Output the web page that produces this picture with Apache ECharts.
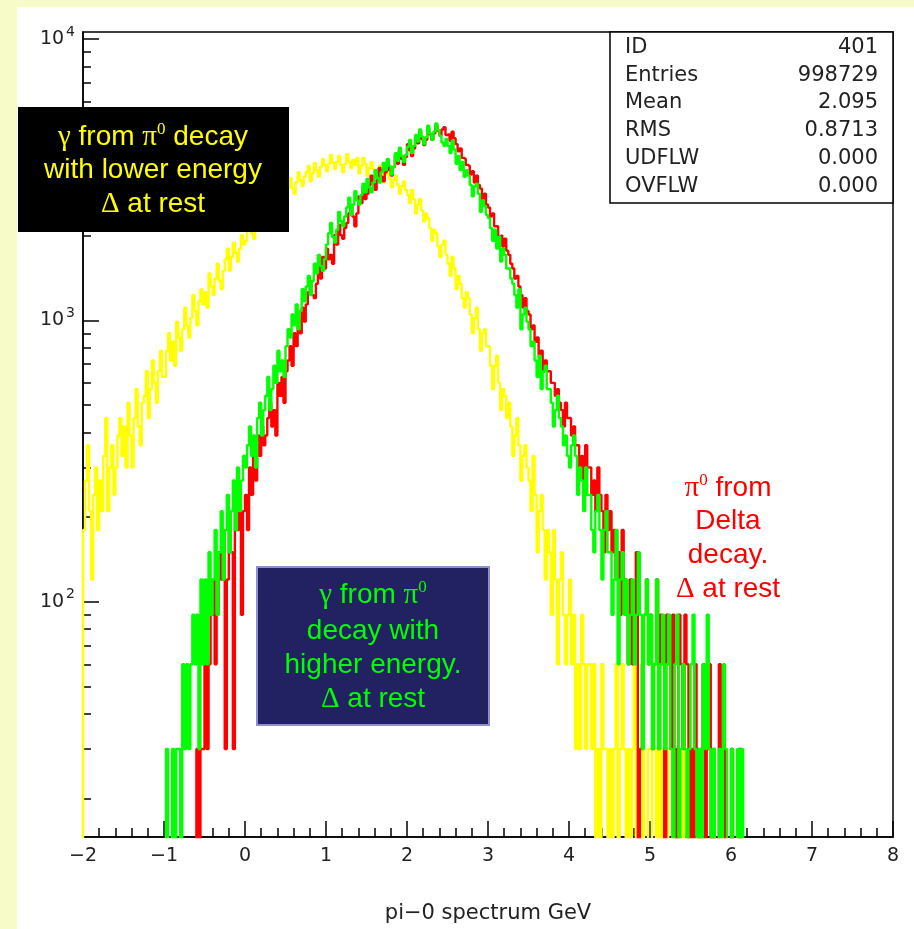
<!DOCTYPE html>
<html><head><meta charset="utf-8">
<script src="https://cdn.jsdelivr.net/npm/echarts@6/dist/echarts.min.js"></script>
<style>
html,body{margin:0;padding:0;background:#f6fbc8;}
#bg{position:absolute;left:17px;top:7px;width:897px;height:922px;background:#fff;}
#chart{position:absolute;left:0;top:0;width:914px;height:929px;}
</style></head><body>
<div id="bg"></div><div id="chart"></div>
<script>
// ---- data (bin width 0.025 GeV) ----
const binWidth = 0.025;
const xTicks = [-2, -1, 0, 1, 2, 3, 4, 5, 6, 7, 8];
const yMajor = [100, 1000, 10000];
const yMinor = [20,30,40,50,60,70,80,90,200,300,400,500,600,700,800,900,2000,3000,4000,5000,6000,7000,8000,9000];

const yellowStart = -2.0;   // gamma from pi0, lower energy
const yellowCounts = [
  180,270,360,210,120,240,300,180,270,210, 330,450,210,300,360,240,300,390,450,330,
  420,300,510,390,300,450,570,420,360,510, 540,660,450,570,720,600,510,660,780,630,
  630,780,900,720,840,690,990,870,780,930, 1110,960,870,1020,1230,1080,960,1170,1290,1140,
  1260,1110,1470,1320,1230,1410,1590,1380,1290,1500, 1650,1800,1500,1680,1890,1740,1620,1800,2010,1860,
  1920,2100,2280,2040,1950,2190,2430,2250,2130,2340, 2520,2700,2370,2550,2820,2640,2490,2730,2940,2760,
  2700,2970,3210,2940,2820,3090,3360,3150,3000,3240, 3360,3540,3120,3330,3630,3420,3240,3510,3750,3570,
  3390,3600,3870,3630,3450,3660,3840,3570,3360,3600, 3900,3660,3480,3720,3570,3780,3330,3540,3780,3600,
  3270,3480,3660,3450,3180,3390,3540,3300,3090,3300, 3420,3180,2970,3150,3270,3030,2820,3000,3120,2910,
  2790,2610,2910,2700,2400,2580,2700,2460,2250,2400, 2310,2130,1920,2100,2040,1830,1680,1860,1920,1710,
  1590,1440,1680,1530,1290,1440,1350,1200,1110,1260, 1200,1050,900,1020,1110,930,780,900,930,810,
  810,690,570,690,750,600,480,570,540,450, 510,420,330,390,450,360,270,330,360,300,
  270,210,330,240,150,210,240,180,120,180, 150,90,180,120,60,120,150,90,60,90,
  120,60,90,30,60,30,90,60,30,60, 60,30,60,0,30,0,60,30,30,0,
  30,0,30,60,0,30,60,30,0,30, 0,30,60,0,30,0,30,0,0,30,
  30,0,0,30,0,30,0,0,30,0, 0,0,30,0,0,0,30,0,0,30
];
const greenStart = -1.0;    // gamma from pi0, higher energy
const greenCounts = [
  0,30,0,0,30,0,30,30,0,60, 30,60,30,60,90,60,90,30,120,60,
  120,60,150,90,120,180,90,150,210,120, 180,240,150,210,270,180,300,210,270,330,
  300,360,420,330,390,300,450,510,390,480, 540,630,480,570,690,600,780,660,720,630,
  810,930,870,1050,960,1140,930,1080,1290,1170, 1320,1440,1230,1380,1590,1470,1710,1560,1500,1650,
  1860,2040,2220,1980,1890,2100,2430,2250,2160,2340, 2520,2730,2370,2580,2880,2670,2580,2790,3060,2850,
  3180,2970,2850,3090,3420,3210,3090,3360,3630,3420, 3750,3540,3300,3510,3930,3690,4110,3840,3660,3870,
  4140,4380,3930,4170,4560,4320,4770,4500,4230,4470, 4920,4620,4380,4680,5010,4740,4530,4290,4170,4410,
  4170,3930,4350,4050,3600,3840,3420,3660,3240,3420, 3270,3030,2760,3000,3060,2820,2430,2670,2550,2370,
  2310,2130,1920,2100,1800,1980,1620,1800,1710,1530, 1530,1410,1350,1230,1110,1290,930,1050,1110,990,
  930,810,840,720,630,750,570,660,690,570, 570,510,420,480,540,450,420,360,390,330,
  300,360,390,330,240,300,270,210,300,240, 240,180,150,210,240,180,120,180,210,150,
  150,90,120,180,60,120,150,90,120,60, 90,120,60,90,150,90,30,90,120,60,
  90,30,60,120,30,60,90,30,60,90, 30,0,60,90,0,30,60,30,0,30,
  60,90,30,0,30,0,60,30,90,30, 0,30,0,0,30,0,60,30,0,0,
  30,0,0,30,0,30,0,0,0,0
];
const redStart = -0.6;      // pi0 from Delta decay
const redCounts = [
  30,0,30,30,
  60,30,60,90,120,60,90,150,120,180, 30,120,180,150,30,210,180,240,90,210,
  240,180,300,240,330,270,390,330,420,360, 390,450,510,420,480,390,600,540,630,510,
  660,720,810,690,900,810,1020,900,1110,990, 1140,1260,1380,1230,1200,1350,1560,1410,1680,1530,
  1800,1650,1710,1590,2010,1860,2190,2010,1950,2130, 2220,2400,2550,2340,2160,2400,2760,2610,2940,2700,
  2820,3030,3270,3060,2910,3150,3480,3240,3120,3360, 3660,3420,3270,3510,3840,3600,4020,3750,3570,3810,
  4230,4020,3840,4080,4500,4260,4680,4410,4200,4380, 4800,4590,4380,4620,4950,4710,4530,4770,4860,4560,
  4590,4350,4680,4440,4230,3990,4080,3780,3750,3570, 3540,3300,3390,3090,3270,3030,2940,2700,2820,2580,
  2520,2340,2400,2160,2160,1980,2010,1830,1950,1770, 1710,1590,1530,1410,1440,1320,1230,1110,1200,1080,
  1050,930,960,840,870,750,780,660,720,660, 660,600,600,540,570,510,480,420,510,450,
  450,390,420,360,360,300,330,270,360,300, 300,240,270,210,300,240,210,150,240,180,
  210,150,180,120,150,90,180,120,90,60, 120,60,90,150,0,30,60,90,120,60,
  90,30,60,120,30,90,60,0,90,60, 30,90,30,0,90,60,30,90,60,0,
  30,0,60,30,0,30,60,0,30,60, 0,30,0,0,60,30,30,0,0,0,
  30,0,0,0,30,0,0,0,0,0
];

const statsLabels = ['ID', 'Entries', 'Mean', 'RMS', 'UDFLW', 'OVFLW'];
const statsValues = ['401', '998729', '2.095', '0.8713', '0.000', '0.000'];

// ---- build ----
const FLOOR = 1; // empty bins are drawn below the axis minimum (log scale)
function histPoints(start, counts) {
  const pts = [[start, FLOOR]];
  counts.forEach((c, i) => {
    const lo = +(start + i * binWidth).toFixed(4);
    const hi = +(start + (i + 1) * binWidth).toFixed(4);
    const v = c > 0 ? c : FLOOR;
    pts.push([lo, v], [hi, v]);
  });
  pts.push([+(start + counts.length * binWidth).toFixed(4), FLOOR]);
  return pts;
}

const AX = 'DejaVu Sans';
const SANS = 'Liberation Sans';
const SERIF = 'Liberation Serif';
const axisCol = '#000';

function line(x, y, text, color, size, z) {
  return {
    type: 'text', x: x, y: y, z: z || 101,
    style: {
      text: text, fill: color, fontFamily: SANS, fontSize: size,
      align: 'center', verticalAlign: 'middle',
      rich: {
        s: { fontFamily: SERIF, fontSize: size + 1, fill: color },
        p: { fontFamily: SERIF, fontSize: Math.round(size * 0.62), fill: color, padding: [0, 0, Math.round(size * 0.5), 0] }
      }
    }
  };
}

const graphics = [
  { type: 'rect', z: 100, shape: { x: 18, y: 107, width: 271, height: 125 }, style: { fill: '#000' } },
  line(153, 137, '{s|γ} from {s|π}{p|0} decay', '#ffff00', 28),
  line(153, 170, 'with lower energy', '#ffff00', 28),
  line(153, 204, '{s|Δ} at rest', '#ffff00', 28),
  { type: 'rect', z: 100, shape: { x: 257, y: 567, width: 232, height: 158 }, style: { fill: '#222262', stroke: '#8f8fd0', lineWidth: 2 } },
  line(373, 595, '{s|γ} from {s|π}{p|0}', '#00ff00', 28),
  line(373, 631, 'decay with', '#00ff00', 28),
  line(373, 665, 'higher energy.', '#00ff00', 28),
  line(373, 699, '{s|Δ} at rest', '#00ff00', 28),
  line(728, 488, '{s|π}{p|0} from', '#ff0000', 28),
  line(728, 521, 'Delta', '#ff0000', 28),
  line(728, 555, 'decay.', '#ff0000', 28),
  line(728, 589, '{s|Δ} at rest', '#ff0000', 28),
  { type: 'rect', z: 90, shape: { x: 610, y: 32, width: 283, height: 171 }, style: { fill: '#fff', stroke: '#000', lineWidth: 1.5 } }
];
const statY = [48, 76, 103, 131, 159, 187];
statsLabels.forEach((t, i) => {
  graphics.push({ type: 'text', z: 91, x: 625, y: statY[i], style: { text: t, fill: '#222', fontFamily: AX, fontSize: 21, align: 'left', verticalAlign: 'middle' } });
  graphics.push({ type: 'text', z: 91, x: 878, y: statY[i], style: { text: statsValues[i], fill: '#222', fontFamily: AX, fontSize: 21, align: 'right', verticalAlign: 'middle' } });
});

const yMin = 14.6, yMax = 10590;
const option = {
  animation: false,
  backgroundColor: 'transparent',
  grid: { left: 83, top: 32, width: 810, height: 812, show: true, borderColor: '#000', borderWidth: 1.5, backgroundColor: 'transparent' },
  xAxis: {
    type: 'value', min: xTicks[0], max: xTicks[xTicks.length - 1], interval: 1,
    axisLine: { onZero: false, lineStyle: { color: axisCol, width: 1.5 } },
    axisTick: { inside: true, length: 16, lineStyle: { color: axisCol, width: 1.5 } },
    minorTick: { show: true, splitNumber: 5, length: 9, lineStyle: { color: axisCol, width: 1.5 } },
    splitLine: { show: false },
    axisLabel: { fontFamily: AX, fontSize: 19, color: '#222', margin: 10,
      formatter: v => String(v).replace('-', '\u2212') },
    name: 'pi\u22120 spectrum GeV', nameLocation: 'middle', nameGap: 66,
    nameTextStyle: { fontFamily: AX, fontSize: 21, color: '#222' }
  },
  yAxis: [
    {
      type: 'log', min: yMin, max: yMax, logBase: 10, position: 'left',
      axisLine: { show: true, onZero: false, lineStyle: { color: axisCol, width: 1.5 } },
      axisTick: { show: true, inside: true, length: 16, customValues: yMajor, lineStyle: { color: axisCol, width: 1.5 } },
      splitLine: { show: false },
      axisLabel: {
        customValues: yMajor, margin: 8,
        formatter: v => '{b|10}{e|' + Math.round(Math.log10(v)) + '}',
        rich: {
          b: { fontFamily: AX, fontSize: 19, color: '#222' },
          e: { fontFamily: AX, fontSize: 14, color: '#222', padding: [0, 0, 14, 2] }
        }
      }
    },
    {
      type: 'log', min: yMin, max: yMax, logBase: 10, position: 'left', offset: 0,
      axisLine: { show: false, onZero: false },
      axisTick: { show: true, inside: true, length: 8, customValues: yMinor, lineStyle: { color: axisCol, width: 1.5 } },
      axisLabel: { show: false },
      splitLine: { show: false }
    }
  ],
  series: [
    { name: 'yellow', type: 'line', data: histPoints(yellowStart, yellowCounts), symbol: 'none', clip: true,
      lineStyle: { color: '#ffff00', width: 2.4 }, z: 2 },
    { name: 'red', type: 'line', data: histPoints(redStart, redCounts), symbol: 'none', clip: true,
      lineStyle: { color: '#ff0000', width: 2.4 }, z: 3 },
    { name: 'green', type: 'line', data: histPoints(greenStart, greenCounts), symbol: 'none', clip: true,
      lineStyle: { color: '#00ff00', width: 2.4 }, z: 4 }
  ],
  graphic: graphics
};
const chart = echarts.init(document.getElementById('chart'));
chart.setOption(option);
</script></body></html>
